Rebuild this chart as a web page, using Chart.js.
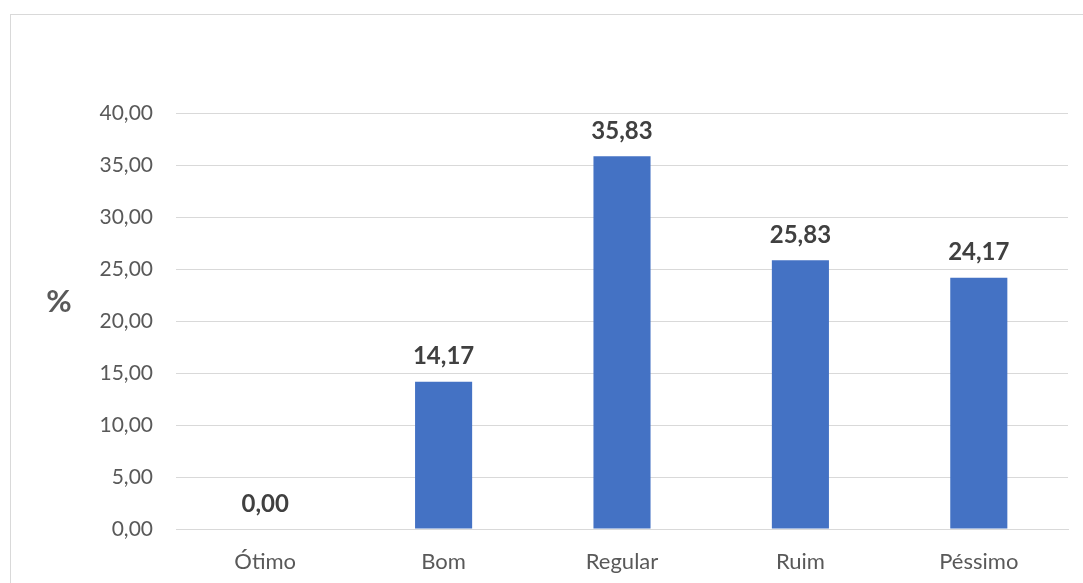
<!DOCTYPE html>
<html>
<head>
<meta charset="utf-8">
<script src="https://cdn.jsdelivr.net/npm/chart.js@4/dist/chart.umd.min.js"></script>
<style>
  html, body { margin: 0; padding: 0; background: #fff; }
  .wrap { position: relative; width: 1083px; height: 583px; overflow: hidden; }
  .frame {
    position: absolute; left: 10px; top: 14px; width: 1100px; height: 600px;
    border: 1px solid #d9d9d9; box-sizing: border-box;
  }
  canvas { position: absolute; left: 0; top: 0; }
</style>
</head>
<body>
<div class="wrap">
  <div class="frame"></div>
  <canvas id="chart" width="1083" height="583"></canvas>
</div>
<script>
const categories = ['Ótimo', 'Bom', 'Regular', 'Ruim', 'Péssimo'];
const percentValues = [0.00, 14.17, 35.83, 25.83, 24.17];
const yTicks = [0, 5, 10, 15, 20, 25, 30, 35, 40];

const FONT = 'Lato, "Open Sans", sans-serif';

function fmt(v) {
  return v.toFixed(2).replace('.', ',');
}

// value labels above the bars plus the horizontal "%" title
const barLabels = {
  id: 'barLabels',
  afterDatasetsDraw(chart) {
    const ctx = chart.ctx;
    const meta = chart.getDatasetMeta(0);
    ctx.save();
    ctx.fillStyle = '#404040';
    ctx.font = 'bold 24px ' + FONT;
    ctx.textAlign = 'center';
    ctx.textBaseline = 'bottom';
    meta.data.forEach((bar, i) => {
      ctx.fillText(fmt(percentValues[i]), bar.x, bar.y - 13);
    });

    ctx.fillStyle = '#595959';
    ctx.font = 'bold 31px ' + FONT;
    ctx.textBaseline = 'middle';
    const area = chart.chartArea;
    ctx.fillText('%', 59, (area.top + area.bottom) / 2 - 19);
    ctx.restore();
  }
};

new Chart(document.getElementById('chart'), {
  type: 'bar',
  data: {
    labels: categories,
    datasets: [{
      data: percentValues,
      backgroundColor: '#4472C4',
      barPercentage: 0.32,
      categoryPercentage: 1,
    }],
  },
  options: {
    responsive: false,
    animation: false,
    layout: { padding: { left: 0, top: 113, right: 15, bottom: 0 } },
    plugins: {
      legend: { display: false },
      tooltip: { enabled: false },
    },
    scales: {
      x: {
        grid: { display: false },
        border: { color: '#d9d9d9', width: 1 },
        ticks: { color: '#595959', font: { family: FONT, size: 22 }, padding: 12 },
        afterFit(scale) { scale.height = 54; },
      },
      y: {
        min: 0,
        max: 40,
        afterBuildTicks(scale) { scale.ticks = yTicks.map((v) => ({ value: v })); },
        grid: { color: '#d9d9d9', lineWidth: 1, drawTicks: false },
        border: { display: false },
        ticks: {
          color: '#595959',
          font: { family: FONT, size: 21 },
          padding: 23,
          callback: (v) => fmt(v),
        },
        afterFit(scale) { scale.width = 176; },
      },
    },
  },
  plugins: [barLabels],
});
</script>
</body>
</html>
